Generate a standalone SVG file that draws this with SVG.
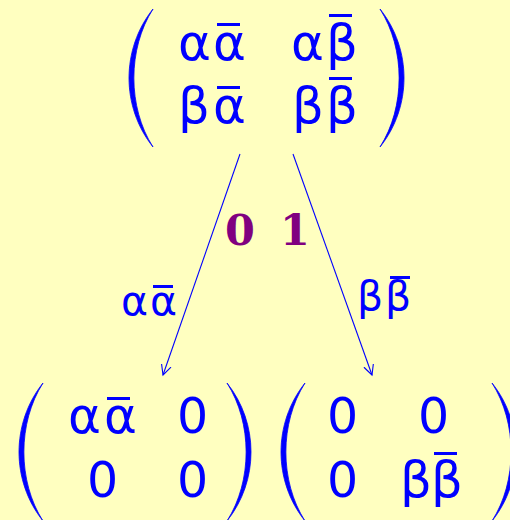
<svg xmlns="http://www.w3.org/2000/svg" width="510" height="520" viewBox="0 0 510 520">
<style>
.m{font-family:"DejaVu Sans",sans-serif;font-size:50px;fill:#0000ff}
.z{font-family:"DejaVu Sans",sans-serif;font-size:49px;fill:#0000ff}
.l{font-family:"DejaVu Sans",sans-serif;font-size:41px;fill:#0000ff}
.b{fill:#0000ff}
.n{font-family:"DejaVu Serif",serif;font-weight:bold;font-size:43px;fill:#800080}
.c{stroke:#0000ff;stroke-width:1.1;fill:none}
</style>
<defs>
<path id="p" d="M24,0 C-8,40 -8,98 24,138 C-1.5,98 -1.5,40 24,0 Z" fill="#0000ff" stroke="#0000ff" stroke-width="0.8"/>
<marker id="a" markerWidth="12" markerHeight="12" refX="10" refY="6" orient="auto" markerUnits="userSpaceOnUse">
<path d="M0,1 L10,6 L0,11" fill="none" stroke="#0000ff" stroke-width="1.1"/>
</marker>
</defs>
<rect width="510" height="520" fill="#ffffc0"/>
<g id="top">
<use href="#p" transform="translate(129,9)"/>
<use href="#p" transform="translate(404,9) scale(-1,1)"/>
<text class="m" x="178" y="60">α</text>
<text class="m" x="213" y="60">α</text>
<rect class="b" x="217" y="23" width="23" height="3"/>
<text class="m" x="291" y="60">α</text>
<text class="m" x="326" y="60">β</text>
<rect class="b" x="329" y="14" width="23" height="3"/>
<text class="m" x="178" y="123">β</text>
<text class="m" x="213" y="123">α</text>
<rect class="b" x="217" y="86" width="23" height="3"/>
<text class="m" x="292" y="123">β</text>
<text class="m" x="326" y="123">β</text>
<rect class="b" x="329" y="77" width="23" height="3"/>
</g>
<g id="connectors">
<line class="c" x1="240" y1="154" x2="163" y2="375" marker-end="url(#a)"/>
<line class="c" x1="293" y1="154" x2="372" y2="375" marker-end="url(#a)"/>
</g>
<g id="labels">
<text class="n" x="225" y="245">0</text>
<text class="n" x="280" y="245">1</text>
<text class="l" x="121" y="315">α</text>
<text class="l" x="150" y="315">α</text>
<rect class="b" x="153" y="285" width="20" height="3"/>
<text class="l" x="357" y="310">β</text>
<text class="l" x="385" y="310">β</text>
<rect class="b" x="390" y="276" width="20" height="3"/>
</g>
<g id="left">
<use href="#p" transform="translate(19,383)"/>
<use href="#p" transform="translate(251,383) scale(-1,1)"/>
<text class="m" x="68" y="433">α</text>
<text class="m" x="104" y="433">α</text>
<rect class="b" x="107" y="397" width="23" height="3"/>
<text class="z" x="177" y="433">0</text>
<text class="z" x="87" y="497">0</text>
<text class="z" x="177" y="497">0</text>
</g>
<g id="right">
<use href="#p" transform="translate(281,383)"/>
<use href="#p" transform="translate(516,383) scale(-1,1)"/>
<text class="z" x="327" y="433">0</text>
<text class="z" x="418" y="433">0</text>
<text class="z" x="327" y="497">0</text>
<text class="m" x="400" y="497">β</text>
<text class="m" x="431" y="497">β</text>
<rect class="b" x="434" y="452" width="23" height="3"/>
</g>
</svg>
